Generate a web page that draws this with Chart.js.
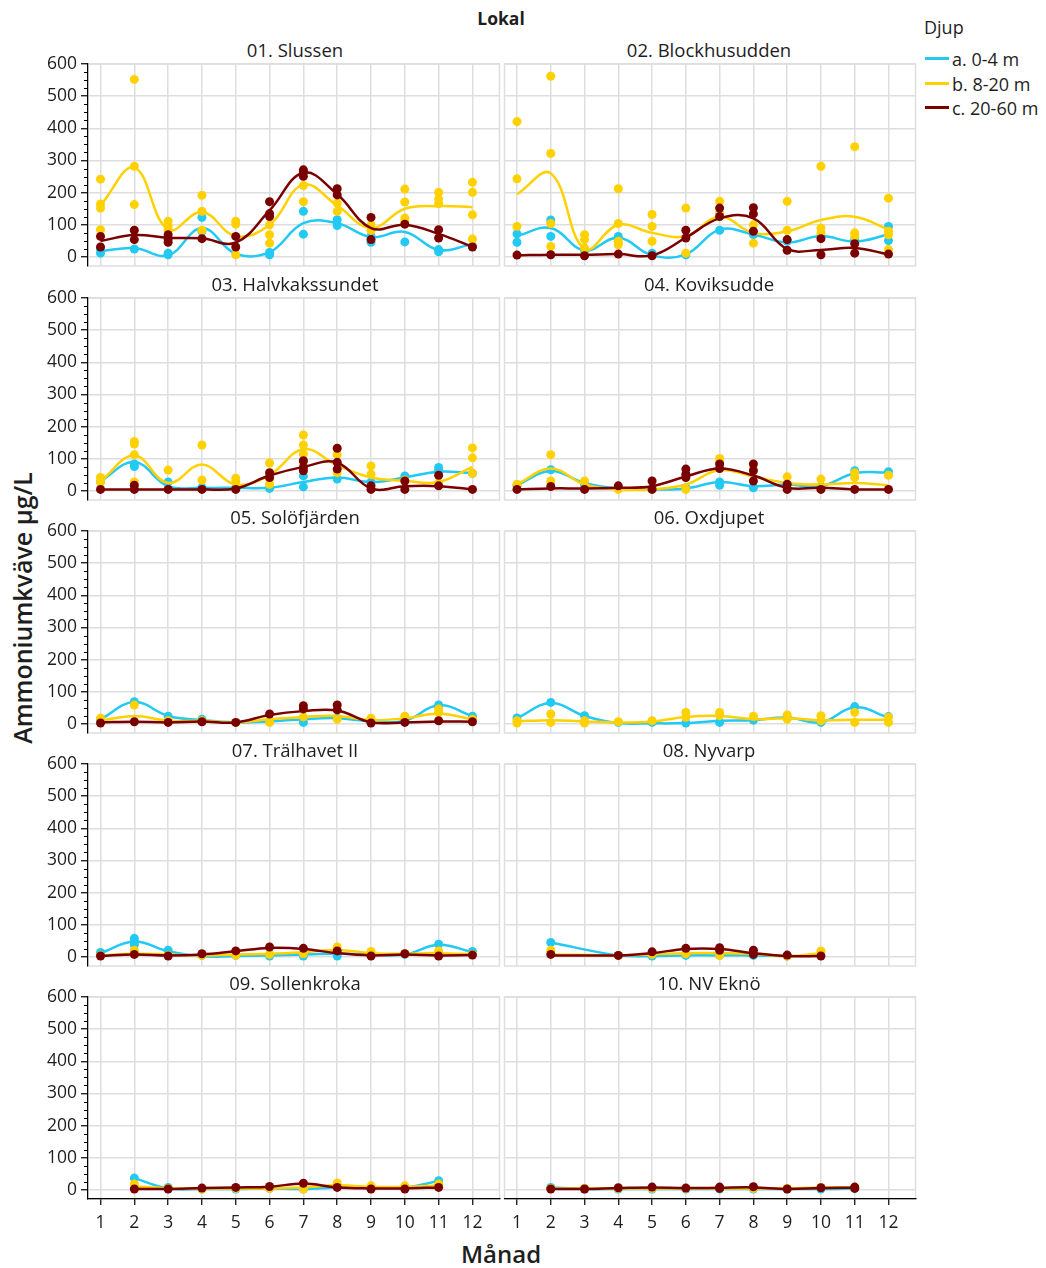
<!DOCTYPE html>
<html>
<head>
<meta charset="utf-8">
<script src="https://cdn.jsdelivr.net/npm/chart.js@4.4.1/dist/chart.umd.min.js"></script>
<style>
  html, body { margin: 0; padding: 0; background: #fff; }
  body { position: relative; width: 1046px; height: 1268px; overflow: hidden; font-family: "Open Sans", sans-serif; color: #1e1e1e; }
  canvas { position: absolute; }
  .txt { position: absolute; white-space: nowrap; line-height: 1; transform: translate(-50%, -50%); }
  .lg-line { position: absolute; height: 3px; width: 24px; }
  .lg-text { position: absolute; white-space: nowrap; line-height: 1; transform: translateY(-50%); font-size: 18px; }
</style>
</head>
<body>
<div class="txt" style="left:501px; top:19px; font-size:17.5px; font-weight:700;">Lokal</div>
<div class="txt" style="left:22px; top:608px; font-size:25px; font-weight:600; transform: translate(-50%,-50%) rotate(-90deg);">Ammoniumkväve µg/L</div>
<div class="txt" style="left:501px; top:1254px; font-size:24px; font-weight:600;">Månad</div>

<div class="lg-text" style="left:924px; top:27px;">Djup</div>
<div class="lg-line" style="left:925px; top:57px; background:#22c9f2;"></div>
<div class="lg-text" style="left:952px; top:59px;">a. 0-4 m</div>
<div class="lg-line" style="left:925px; top:82px; background:#ffd100;"></div>
<div class="lg-text" style="left:952px; top:84px;">b. 8-20 m</div>
<div class="lg-line" style="left:925px; top:106px; background:#7a0000;"></div>
<div class="lg-text" style="left:952px; top:108px;">c. 20-60 m</div>

<script>
// ---- axes ----
const months = [1, 2, 3, 4, 5, 6, 7, 8, 9, 10, 11, 12];
const yTickValues = [0, 100, 200, 300, 400, 500, 600];
const yMinorValues = [25, 50, 75, 125, 150, 175, 225, 250, 275, 325, 350, 375, 425, 450, 475, 525, 550, 575];
const X_MIN = 0.63, X_MAX = 12.8;
const Y_MIN = -28, Y_MAX = 600;

// ---- series ----
const depthLabels = ['a. 0-4 m', 'b. 8-20 m', 'c. 20-60 m'];
const depthColors = ['#22c9f2', '#ffd100', '#7a0000'];
const stationNames = ['01. Slussen', '02. Blockhusudden', '03. Halvkakssundet', '04. Koviksudde',
  '05. Solöfjärden', '06. Oxdjupet', '07. Trälhavet II', '08. Nyvarp', '09. Sollenkroka', '10. NV Eknö'];

// Measurements per month (index 0 = month 1), µg/L
const slussenA = [[23,12],[25],[12,7],[123,80],[],[14,7],[142,71],[116,98],[46,64],[47],[23,16],[33]];
const slussenB = [[242,165,152,85],[552,282,163],[111,95,85],[192,142,83],[111,102,7],[100,69,43],[222,172],[168,142],[100,83],[211,171,121,111],[201,180,166],[232,201,131,56]];
const slussenC = [[64,31],[83,54],[69,56,46],[57],[64,31],[172,135,126],[271,264,251],[212,193],[123,54],[102],[85,59],[31]];
const blockA = [[72,46],[115,64],[21],[64],[12],[7],[83],[70],[49],[65],[54],[95,51]];
const blockB = [[421,243,95],[562,322,104,33],[69,54,28],[212,104,49,38],[132,95,49],[152,12],[173,137],[100,43],[173,83],[282,90,75],[343,75,64],[183,80,69,23]];
const blockC = [[6],[7],[4],[9],[4],[83,59],[152,126],[153,134,80],[54,21],[57,7],[41,12],[9]];
const halvA = [[28],[76,84],[28],[10],[10],[8],[47,13],[37],[28],[47],[73,63],[55]];
const halvB = [[42,28],[154,146,113,28],[65],[143,34],[40,28],[87,37,21],[174,143,115,89],[113,57],[78,52],[34],[25],[134,103,55]];
const halvC = [[5],[18,5],[5],[5],[5],[57,42],[94,73,63],[133,89,68],[16,5],[31,5],[49,16],[5]];
const kovA = [[16],[66],[20],[8],[8],[10],[28,18],[10],[20],[15],[63],[60]];
const kovB = [[21],[113,31],[31],[5],[5],[5],[101,89],[68],[44],[37],[57,42],[49]];
const kovC = [[5],[14],[5],[16],[31,5],[68,52,42],[84,70],[84,63,31],[21,5],[5],[5],[5]];
const soloA = [[15],[69],[24],[15],[5],[8],[5],[18],[8],[10],[59,52],[24]];
const soloB = [[18],[59],[10],[10],[5],[5],[22],[15],[18],[24],[47,36],[15]];
const soloC = [[3],[7],[5],[7],[5],[31],[57,47],[59,44],[3],[5],[10],[7]];
const oxA = [[19],[67],[26],[5],[5],[3],[5],[12],[20],[5],[54],[23]];
const oxB = [[10,3],[31,5],[10,3],[7],[10],[36,21],[36,26],[24],[28,15],[26,10],[36,5],[21,5]];
const oxC = [[],[],[],[],[],[],[],[],[],[],[],[]];
const tralA = [[14],[58,47,38],[21],[5],[5],[3],[3],[3],[8],[8],[40],[17]];
const tralB = [[5],[21],[5],[5],[5],[8],[10],[31],[17],[10],[19],[8]];
const tralC = [[3],[8],[3],[10],[19],[31],[27],[19],[3],[10],[3],[6]];
const nyvA = [[],[45],[],[5],[3],[5],[5],[5],[3],[],[],[]];
const nyvB = [[],[21],[],[5],[8],[10],[5],[10],[3],[19],[],[]];
const nyvC = [[],[8],[],[5],[16],[27],[29,21],[21,8],[6],[3],[],[]];
const sollA = [[],[37],[8],[3],[3],[5],[3],[10],[8],[8],[29],[]];
const sollB = [[],[19],[5],[3],[5],[5],[3],[22],[13],[13],[19],[]];
const sollC = [[],[3],[3],[6],[8],[11],[21],[8],[3],[3],[8],[]];
const eknoA = [[],[8],[3],[3],[3],[3],[3],[3],[3],[3],[5],[]];
const eknoB = [[],[5],[5],[5],[5],[5],[5],[5],[5],[8],[8],[]];
const eknoC = [[],[3],[3],[7],[9],[6],[9,5],[10],[3],[7],[9,5],[]];

// Smoothed monthly curves, µg/L
const slussenFitA = [18,28,5,90,10,15,105,105,62,78,22,40];
const slussenFitB = [160,278,85,140,65,100,225,160,90,150,158,155];
const slussenFitC = [50,68,60,58,45,145,262,195,90,100,72,32];
const blockFitA = [65,90,20,60,5,8,85,70,45,65,48,70];
const blockFitB = [195,260,25,100,75,65,125,75,80,115,125,85];
const blockFitC = [5,7,7,9,5,60,120,120,25,22,28,8];
const halvFitA = [30,90,15,10,10,10,28,42,28,42,60,55];
const halvFitB = [30,110,25,82,20,50,130,80,42,32,28,75];
const halvFitC = [5,5,5,5,8,48,75,88,8,15,15,5];
const kovFitA = [18,62,25,8,5,8,28,15,20,15,55,58];
const kovFitB = [20,70,20,5,5,20,65,45,25,20,25,18];
const kovFitC = [5,8,8,10,15,45,70,48,10,10,5,5];
const soloFitA = [15,68,25,12,5,8,15,18,8,10,58,25];
const soloFitB = [10,25,10,10,5,15,22,25,12,18,32,15];
const soloFitC = [5,7,5,8,5,28,40,42,5,5,8,7];
const oxFitA = [18,65,25,3,2,3,10,12,20,5,52,20];
const oxFitB = [8,12,8,5,8,22,25,15,18,12,13,13];
const oxFitC = [null,null,null,null,null,null,null,null,null,null,null,null];
const tralFitA = [12,48,18,2,3,5,8,10,8,8,38,15];
const tralFitB = [5,10,8,5,8,10,15,22,12,10,12,8];
const tralFitC = [3,8,5,8,18,28,25,12,5,8,5,6];
const nyvFitA = [null,45,null,5,3,5,5,5,3,null,null,null];
const nyvFitB = [null,8,null,5,8,12,12,10,3,12,null,null];
const nyvFitC = [null,5,null,5,12,25,25,12,3,3,null,null];
const sollFitA = [null,37,5,3,3,5,3,8,8,8,28,null];
const sollFitB = [null,12,5,5,5,5,8,15,10,10,14,null];
const sollFitC = [null,3,3,6,8,10,20,8,5,5,8,null];
const eknoFitA = [null,8,3,3,3,3,3,3,3,3,5,null];
const eknoFitB = [null,5,5,5,5,5,5,5,5,8,8,null];
const eknoFitC = [null,3,3,6,8,6,7,8,3,6,7,null];

const panels = [
  { pts: [slussenA, slussenB, slussenC], fit: [slussenFitA, slussenFitB, slussenFitC] },
  { pts: [blockA, blockB, blockC], fit: [blockFitA, blockFitB, blockFitC] },
  { pts: [halvA, halvB, halvC], fit: [halvFitA, halvFitB, halvFitC] },
  { pts: [kovA, kovB, kovC], fit: [kovFitA, kovFitB, kovFitC] },
  { pts: [soloA, soloB, soloC], fit: [soloFitA, soloFitB, soloFitC] },
  { pts: [oxA, oxB, oxC], fit: [oxFitA, oxFitB, oxFitC] },
  { pts: [tralA, tralB, tralC], fit: [tralFitA, tralFitB, tralFitC] },
  { pts: [nyvA, nyvB, nyvC], fit: [nyvFitA, nyvFitB, nyvFitC] },
  { pts: [sollA, sollB, sollC], fit: [sollFitA, sollFitB, sollFitC] },
  { pts: [eknoA, eknoB, eknoC], fit: [eknoFitA, eknoFitB, eknoFitC] }
];

// ---- layout ----
const FONT = "'Open Sans', sans-serif";
const TEXT = '#1e1e1e';
const GRID = '#dedede';
const ROW_TOPS = [64, 298, 531, 764, 997];
const PX_PER_UNIT = 0.3217;
const PLOT_H = Math.round((Y_MAX - Y_MIN) * PX_PER_UNIT);
const PAD_TOP = 18;

// light frame round each panel's plotting area
const panelFrame = {
  id: 'panelFrame',
  beforeDraw(chart) {
    const a = chart.chartArea, ctx = chart.ctx;
    ctx.save();
    ctx.strokeStyle = GRID;
    ctx.lineWidth = 1.5;
    ctx.strokeRect(a.left, a.top, a.right - a.left, a.bottom - a.top);
    ctx.restore();
  }
};

// short minor tick marks on the value axis
const minorTicks = {
  id: 'minorTicks',
  afterDraw(chart, args, opts) {
    if (!opts.show) return;
    const y = chart.scales.y, ctx = chart.ctx, x0 = chart.chartArea.left;
    ctx.save();
    ctx.strokeStyle = '#000';
    ctx.lineWidth = 1;
    ctx.beginPath();
    yMinorValues.forEach(v => {
      const py = Math.round(y.getPixelForValue(v)) + 0.5;
      ctx.moveTo(x0 - 4, py);
      ctx.lineTo(x0, py);
    });
    ctx.stroke();
    ctx.restore();
  }
};

panels.forEach((p, i) => {
  const col = i % 2, row = Math.floor(i / 2);
  const isLeft = col === 0, isBottom = row === 4;
  const plotTop = ROW_TOPS[row];
  const xAxisH = isBottom ? 45 : 16;
  const cw = isLeft ? 504 : 420;
  const ch = PAD_TOP + PLOT_H + xAxisH;

  const title = document.createElement('div');
  title.className = 'txt';
  title.style.left = (isLeft ? 295 : 709) + 'px';
  title.style.top = (plotTop - 14) + 'px';
  title.style.fontSize = '18.5px';
  title.textContent = stationNames[i];
  document.body.appendChild(title);

  const cv = document.createElement('canvas');
  cv.width = cw; cv.height = ch;
  cv.style.width = cw + 'px'; cv.style.height = ch + 'px';
  cv.style.left = (isLeft ? 0 : 500) + 'px';
  cv.style.top = (plotTop - PAD_TOP) + 'px';
  document.body.appendChild(cv);

  const datasets = [];
  let seq = 0;
  p.pts.forEach((perMonth, d) => {
    const pts = [];
    perMonth.forEach((vals, mi) => vals.forEach(v => pts.push({ x: months[mi], y: v })));
    datasets.push({
      label: depthLabels[d], data: pts, showLine: false,
      pointRadius: 4.5, pointHoverRadius: 4.5, pointBorderWidth: 0,
      pointBackgroundColor: depthColors[d], borderColor: depthColors[d],
      order: 100 - seq++
    });
    datasets.push({
      label: depthLabels[d], data: months.map((m, mi) => ({ x: m, y: p.fit[d][mi] })),
      showLine: true, spanGaps: true, pointRadius: 0, fill: false,
      borderColor: depthColors[d], borderWidth: 2.5, tension: 0.4,
      order: 100 - seq++
    });
  });

  new Chart(cv, {
    type: 'line',
    data: { datasets },
    options: {
      responsive: false, animation: false, devicePixelRatio: 1, events: [],
      layout: { padding: { top: PAD_TOP, right: isLeft ? 2 : 4, bottom: 0, left: 0 } },
      plugins: { legend: { display: false }, tooltip: { enabled: false }, minorTicks: { show: isLeft } },
      scales: {
        x: {
          type: 'linear', min: X_MIN, max: X_MAX,
          afterBuildTicks: s => { s.ticks = months.map(v => ({ value: v })); },
          afterFit: s => { s.height = xAxisH; },
          grid: { color: GRID, lineWidth: 1.5, drawTicks: isBottom, tickLength: 6, tickColor: '#000', tickWidth: 1.2 },
          border: { display: isBottom, color: '#000', width: 1.2 },
          ticks: { display: isBottom, color: TEXT, font: { family: FONT, size: 17.5 }, padding: 8, maxRotation: 0, autoSkip: false }
        },
        y: {
          type: 'linear', min: Y_MIN, max: Y_MAX,
          afterBuildTicks: s => { s.ticks = yTickValues.map(v => ({ value: v })); },
          afterFit: s => { s.width = isLeft ? 88 : 2; },
          grid: { color: GRID, lineWidth: 1.5, drawTicks: isLeft, tickLength: 7, tickColor: '#000', tickWidth: 1.2 },
          border: { display: isLeft, color: '#000', width: 1.2 },
          ticks: { display: isLeft, color: TEXT, font: { family: FONT, size: 17.5 }, padding: 4 }
        }
      }
    },
    plugins: [panelFrame, minorTicks]
  });
});
</script>
</body>
</html>
